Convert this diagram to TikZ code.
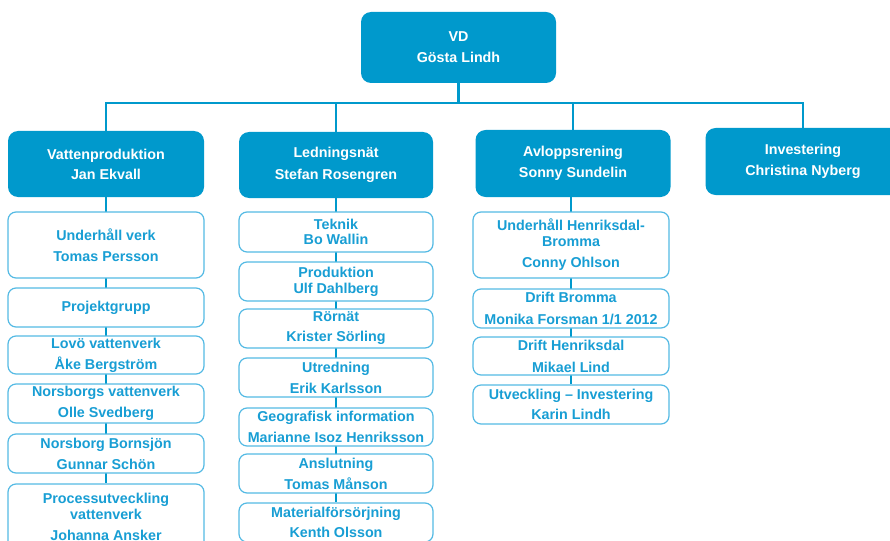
\documentclass[tikz,border=0pt]{standalone}
\usepackage{fontspec}
\setmainfont{Liberation Sans}
\usetikzlibrary{backgrounds}
\definecolor{orgblue}{RGB}{0,153,204}
\definecolor{unittext}{RGB}{24,158,212}
\definecolor{unitline}{RGB}{84,186,228}
\tikzset{
  head/.style={fill=orgblue, rounded corners=10pt, text=white,
    font=\bfseries\fontsize{14.3}{15}\selectfont, align=center,
    inner sep=0pt, minimum width=195pt, minimum height=66pt},
  unit/.style={draw=unitline, line width=1.2pt, fill=white, rounded corners=8pt,
    text=unittext, font=\bfseries\fontsize{14.3}{15}\selectfont, align=center,
    inner sep=0pt, minimum width=195pt, minimum height=39pt},
  link/.style={draw=orgblue, line width=2.6pt},
}
\begin{document}
\begin{tikzpicture}[x=1pt,y=-1pt]
\useasboundingbox (0,0) rectangle (890,540);
\clip (0,0) rectangle (890,540);

% management level
\node[head, minimum height=71pt] (vd) at (458.5,47.5) {VD\\[6pt]Gösta Lindh};
\node[head, minimum width=196pt] (h1) at (106,164) {Vattenproduktion\\[5pt]Jan Ekvall};
\node[head, minimum width=194pt] (h2) at (336,165) {Ledningsnät\\[7pt]Stefan Rosengren};
\node[head, minimum height=67pt] (h3) at (573,163.5) {Avloppsrening\\[6pt]Sonny Sundelin};
\node[head, minimum height=67pt] (h4) at (803,161.5) {Investering\\[6pt]Christina Nyberg};
\coordinate (bus) at (0,103);

% Vattenproduktion units
\node[unit, minimum width=196pt, minimum height=66pt] (u1a) at (106,245) {Underhåll verk\\[6pt]Tomas Persson};
\node[unit, minimum width=196pt] (u1b) at (106,307.5) {Projektgrupp};
\node[unit, minimum width=196pt, minimum height=38pt] (u1c) at (106,355) {Lovö vattenverk\\[6pt]Åke Bergström};
\node[unit, minimum width=196pt] (u1d) at (106,403.5) {Norsborgs vattenverk\\[6pt]Olle Svedberg};
\node[unit, minimum width=196pt] (u1e) at (106,453.5) {Norsborg Bornsjön\\[6pt]Gunnar Schön};
\node[unit, minimum width=196pt, minimum height=66pt] (u1f) at (106,517) {Processutveckling\\[1pt]vattenverk\\[6pt]Johanna Ansker};

% Ledningsnät units
\node[unit, minimum width=194pt, minimum height=40pt] (u2a) at (336,232) {Teknik\\Bo Wallin};
\node[unit, minimum width=194pt] (u2b) at (336,281.5) {Produktion\\[1pt]Ulf Dahlberg};
\node[unit, minimum width=194pt] (u2c) at (336,328.5) {Rörnät\\[5pt]Krister Sörling};
\node[unit, minimum width=194pt] (u2d) at (336,377.5) {Utredning\\[6pt]Erik Karlsson};
\node[unit, minimum width=194pt, minimum height=38pt] (u2e) at (336,427) {Geografisk information\\[6pt]Marianne Isoz Henriksson};
\node[unit, minimum width=194pt] (u2f) at (336,473.5) {Anslutning\\[6pt]Tomas Månson};
\node[unit, minimum width=194pt] (u2g) at (336,522.5) {Materialförsörjning\\[5pt]Kenth Olsson};

% Avloppsrening units
\node[unit, minimum width=196pt, minimum height=66pt] (u3a) at (571,245) {Underhåll Henriksdal-\\[1pt]Bromma\\[6pt]Conny Ohlson};
\node[unit, minimum width=196pt] (u3b) at (571,308.5) {Drift Bromma\\[7pt]Monika Forsman 1/1 2012};
\node[unit, minimum width=196pt, minimum height=38pt] (u3c) at (571,356) {Drift Henriksdal\\[7pt]Mikael Lind};
\node[unit, minimum width=196pt] (u3d) at (571,404.5) {Utveckling – Investering\\[5pt]Karin Lindh};

% reporting lines
\begin{scope}[on background layer]
  \draw[link] (vd.south) -- (vd.south |- bus);
  \draw[link] (h1.north) -- (h1.north |- bus) -- (h4.north |- bus) -- (h4.north);
  \draw[link] (h2.north) -- (h2.north |- bus);
  \draw[link] (h3.north) -- (h3.north |- bus);
  \draw[link] (h1.south) -- (u1f.north);
  \draw[link] (h2.south) -- (u2g.north);
  \draw[link] (u3a.north |- h3.south) -- (u3d.north);
\end{scope}
\end{tikzpicture}
\end{document}
